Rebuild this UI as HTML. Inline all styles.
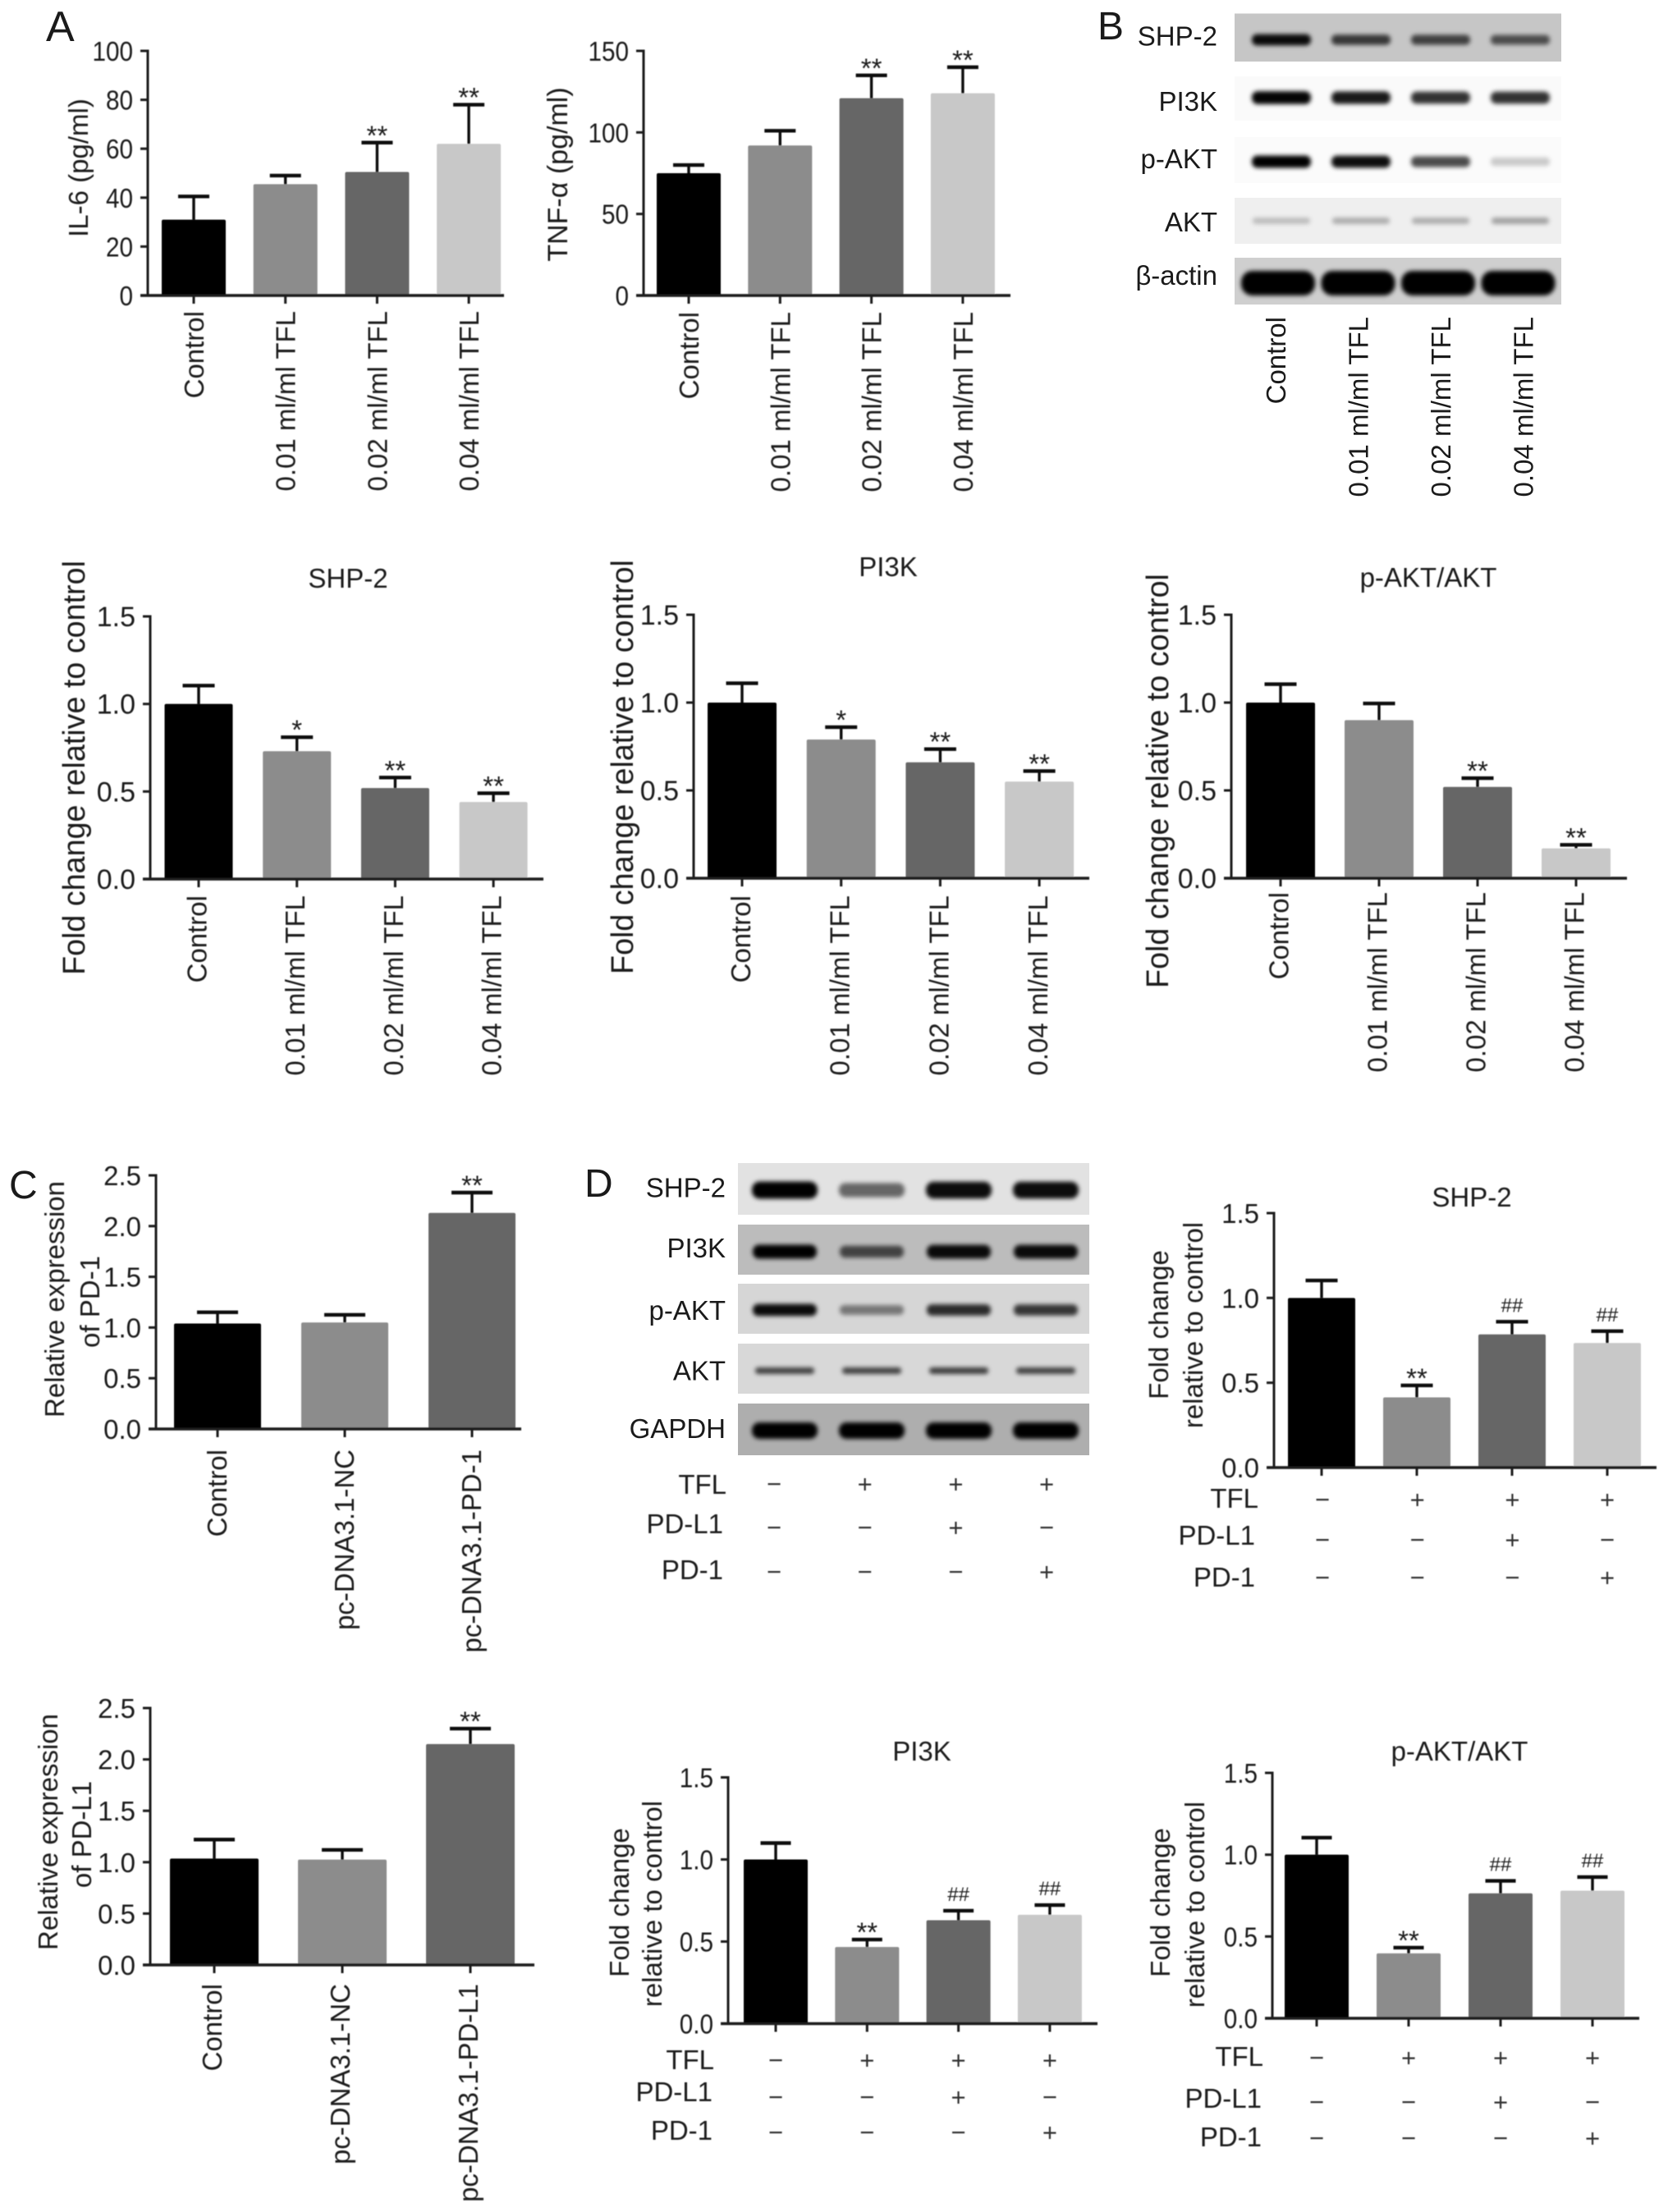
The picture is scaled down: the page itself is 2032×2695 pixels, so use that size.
<!DOCTYPE html>
<html lang="en">
<head>
<meta charset="utf-8">
<title>TFL western blot and bar chart figure</title>
<style>
html,body{margin:0;padding:0;background:#fff;}
svg{display:block;}
text{font-family:"Liberation Sans",Arial,sans-serif;fill:#1a1a1a;}
</style>
</head>
<body>
<svg id="fig" xmlns="http://www.w3.org/2000/svg" width="2032" height="2695" viewBox="0 0 2032 2695">
<defs>
<filter id="band-blur" x="-20%" y="-80%" width="140%" height="260%"><feGaussianBlur stdDeviation="2.6"></feGaussianBlur></filter>
<filter id="soft" x="-2%" y="-2%" width="104%" height="104%"><feGaussianBlur stdDeviation="0.5"></feGaussianBlur></filter>
</defs>
<text x="56" y="50" font-size="52">A</text>
<text x="1337" y="48" font-size="48">B</text>
<text x="11" y="1460" font-size="48">C</text>
<text x="712" y="1458" font-size="48">D</text>
</svg>
<script>
// ---- chart data ----
const doseCategories = ['Control', '0.01 ml/ml TFL', '0.02 ml/ml TFL', '0.04 ml/ml TFL'];
const pd1Categories = ['Control', 'pc-DNA3.1-NC', 'pc-DNA3.1-PD-1'];
const pdl1Categories = ['Control', 'pc-DNA3.1-NC', 'pc-DNA3.1-PD-L1'];

const il6Ticks = [0, 20, 40, 60, 80, 100];
const tnfTicks = [0, 50, 100, 150];
const foldTicks = [0, 0.5, 1, 1.5];
const exprTicks = [0, 0.5, 1, 1.5, 2, 2.5];
const il6TickLabels = ['0', '20', '40', '60', '80', '100'];
const tnfTickLabels = ['0', '50', '100', '150'];
const foldTickLabels = ['0.0', '0.5', '1.0', '1.5'];
const exprTickLabels = ['0.0', '0.5', '1.0', '1.5', '2.0', '2.5'];

const il6Values = [31, 45.5, 50.5, 62];
const il6Errors = [9.5, 3.5, 12, 16];
const il6Marks = ['', '', '**', '**'];
const tnfValues = [75, 92, 121, 124];
const tnfErrors = [5, 9, 14, 16];
const tnfMarks = ['', '', '**', '**'];

const shp2Values = [1, 0.73, 0.52, 0.44];
const shp2Errors = [0.105, 0.08, 0.06, 0.05];
const shp2Marks = ['', '*', '**', '**'];
const pi3kValues = [1, 0.79, 0.66, 0.55];
const pi3kErrors = [0.11, 0.07, 0.075, 0.06];
const pi3kMarks = ['', '*', '**', '**'];
const paktValues = [1, 0.9, 0.52, 0.17];
const paktErrors = [0.105, 0.095, 0.05, 0.02];
const paktMarks = ['', '', '**', '**'];

const pd1Values = [1.04, 1.05, 2.13];
const pd1Errors = [0.11, 0.075, 0.2];
const pd1Marks = ['', '', '**'];
const pdl1Values = [1.035, 1.025, 2.15];
const pdl1Errors = [0.185, 0.095, 0.15];
const pdl1Marks = ['', '', '**'];

const rescueShp2Values = [1, 0.414, 0.785, 0.734];
const rescueShp2Errors = [0.103, 0.07, 0.075, 0.07];
const rescuePi3kValues = [1, 0.467, 0.63, 0.663];
const rescuePi3kErrors = [0.1, 0.045, 0.058, 0.059];
const rescuePaktValues = [1, 0.397, 0.764, 0.78];
const rescuePaktErrors = [0.104, 0.035, 0.076, 0.083];
const rescueMarks = ['', '**', '##', '##'];

const rowTFL = ['\u2212', '+', '+', '+'];
const rowPDL1 = ['\u2212', '\u2212', '+', '\u2212'];
const rowPD1 = ['\u2212', '\u2212', '\u2212', '+'];

const blotBShp2 = [0.95, 0.72, 0.68, 0.62];
const blotBPi3k = [0.98, 0.9, 0.8, 0.8];
const blotBPakt = [1, 0.95, 0.7, 0.2];
const blotBAkt = [0.22, 0.28, 0.28, 0.32];
const blotBActin = [1, 1, 1, 1];
const blotDShp2 = [1, 0.55, 0.95, 0.95];
const blotDPi3k = [1, 0.65, 0.95, 0.95];
const blotDPakt = [0.95, 0.45, 0.8, 0.75];
const blotDAkt = [0.7, 0.7, 0.72, 0.7];
const blotDGapdh = [1, 1, 1, 1];

const barFills = ['#000000', '#8c8c8c', '#666666', '#c8c8c8'];

// ---- drawing helpers ----
const NS = 'http://www.w3.org/2000/svg';
const fig = document.getElementById('fig');
function mk(parent, tag, attrs, txt) {
  const n = document.createElementNS(NS, tag);
  for (const k in attrs) n.setAttribute(k, attrs[k]);
  if (txt !== undefined) n.textContent = txt;
  parent.appendChild(n);
  return n;
}

function drawChart(c) {
  const g = mk(fig, 'g', {filter: 'url(#soft)'});
  
  
  const yScale = v => c.yBase - (v / c.yMax) * (c.yBase - c.yTop);
  const xScale = i => c.cx0 + i * c.step;

  // bars
  c.values.forEach((v, i) => {
    const bar = mk(g, 'rect', {x: xScale(i) - c.barW / 2, y: yScale(v), width: c.barW, height: c.yBase - yScale(v), rx: 2, fill: barFills[i]});
    
    
  });

  // error bars
  c.values.forEach((v, i) => {
    const top = yScale(v + c.errors[i]);
    const stem = mk(g, 'line', {x1: xScale(i), x2: xScale(i), y1: yScale(v), y2: top, stroke: '#0c0c0c', 'stroke-width': 3.4});
    
    
    const cap = mk(g, 'line', {x1: xScale(i) - c.capW / 2, x2: xScale(i) + c.capW / 2, y1: top, y2: top, stroke: '#0c0c0c', 'stroke-width': 4.4});
    
    
    const m = c.marks[i];
    if (m) {
      const isHash = m[0] === '#';
      const sig = mk(g, 'text', {x: xScale(i), y: isHash ? top - 12 : top + 2.5, 'font-size': isHash ? 24 : 33, 'text-anchor': 'middle'}, m);
      
      
    }
  });

  // axes
  const yAxis = mk(g, 'line', {x1: c.axisX, x2: c.axisX, y1: c.yTop - 1.5, y2: c.yBase + 1.5, stroke: '#1a1a1a', 'stroke-width': 3});
  
  
  const xAxis = mk(g, 'line', {x1: c.axisX - 9, x2: c.xRight, y1: c.yBase, y2: c.yBase, stroke: '#1a1a1a', 'stroke-width': 3.4});
  
  

  c.ticks.forEach((t, i) => {
    const tick = mk(g, 'line', {x1: c.axisX - 9, x2: c.axisX, y1: yScale(t), y2: yScale(t), stroke: '#1a1a1a', 'stroke-width': 3});
    
    
    const lx = c.axisX - 18, ly = yScale(t) + 12;
    const lab = mk(g, 'text', {transform: 'translate(' + lx + ' ' + ly + ') scale(' + c.tickScale + ' 1)', 'font-size': c.tickFont, 'text-anchor': 'end'}, c.tickLabels[i]);
    
    
  });

  c.values.forEach((v, i) => {
    const tick = mk(g, 'line', {x1: xScale(i), x2: xScale(i), y1: c.yBase, y2: c.yBase + 10, stroke: '#1a1a1a', 'stroke-width': 3});
    
    
  });

  // rotated category labels
  if (c.categories) {
    c.categories.forEach((cat, i) => {
      const bx = xScale(i) + c.catOffset;
      const lab = mk(g, 'text', {x: bx, y: c.catTop, 'font-size': 33, 'text-anchor': 'end', transform: 'rotate(-90 ' + bx + ' ' + c.catTop + ')'}, cat);
      
      
    });
  }

  // y-axis title lines
  c.yTitle.forEach(line => {
    const yl = mk(g, 'text', {x: line[1], y: line[2], 'font-size': c.yTitleFont, 'text-anchor': 'middle', transform: 'rotate(-90 ' + line[1] + ' ' + line[2] + ')'}, line[0]);
    
    
  });

  if (c.title) {
    const tt = mk(g, 'text', {x: c.title[1], y: c.title[2], 'font-size': 33, 'text-anchor': 'middle'}, c.title[0]);
    
    
  }
}

function drawTreatmentTable(name, rows, x0, step) {
  const g = mk(fig, 'g', {filter: 'url(#soft)'});
  
  
  rows.forEach(r => {
    const lab = mk(g, 'text', {x: r.right, y: r.base, 'font-size': 33, 'text-anchor': 'end'}, r.label);
    
    
    r.signs.forEach((s, i) => {
      const sign = mk(g, 'text', {x: x0 + i * step, y: r.cy + 10.5, 'font-size': 31, 'text-anchor': 'middle', style: 'fill:#333'}, s);
      
      
    });
  });
}

function drawBlotStrip(name, label, labelRight, labelBase, x, w, y, h, bg, intensities, bandY, bandH, laneX0, laneStep, bandW) {
  const g = mk(fig, 'g', {});
  
  
  const strip = mk(g, 'rect', {x: x, y: y, width: w, height: h, fill: bg});
  
  
  intensities.forEach((v, i) => {
    const hh = bandH * (0.6 + 0.4 * v);
    const band = mk(g, 'rect', {x: laneX0 + i * laneStep - bandW / 2, y: bandY - hh / 2, width: bandW, height: hh, rx: hh / 2.2, fill: '#000', 'fill-opacity': v, filter: 'url(#band-blur)'});
    
    
  });
  const lab = mk(g, 'text', {x: labelRight, y: labelBase, 'font-size': 33, 'text-anchor': 'end'}, label);
  
  
}

// ---- Panel A ----
drawChart({name: 'il6-chart', axisX: 180, yTop: 62, yBase: 360, xRight: 614, yMax: 100, cx0: 236, step: 111.7, barW: 78, capW: 38,
  ticks: il6Ticks, tickLabels: il6TickLabels, values: il6Values, errors: il6Errors, marks: il6Marks, tickFont: 33, tickScale: 0.9,
  categories: doseCategories, catOffset: 12, catTop: 379, yTitleFont: 33, yTitle: [['IL-6 (pg/ml)', 107, 204.5]]});
drawChart({name: 'tnf-alpha-chart', axisX: 784, yTop: 62, yBase: 360, xRight: 1231, yMax: 150, cx0: 839, step: 111.3, barW: 78, capW: 38,
  ticks: tnfTicks, tickLabels: tnfTickLabels, values: tnfValues, errors: tnfErrors, marks: tnfMarks, tickFont: 33, tickScale: 0.9,
  categories: doseCategories, catOffset: 12, catTop: 380, yTitleFont: 34, yTitle: [['TNF-\u03B1 (pg/ml)', 691, 212.5]]});

// ---- Panel B blots ----
drawBlotStrip('blot-b-shp2', 'SHP-2', 1483, 55.5, 1504, 398, 16.5, 58.5, '#c6c6c6', blotBShp2, 48.5, 14, 1561, 97, 72);
drawBlotStrip('blot-b-pi3k', 'PI3K', 1483, 135, 1504, 398, 93, 54, '#fafafa', blotBPi3k, 119, 16, 1561, 97, 72);
drawBlotStrip('blot-b-pakt', 'p-AKT', 1483, 205, 1504, 398, 167, 56, '#fbfbfb', blotBPakt, 197, 15, 1561, 97, 72);
drawBlotStrip('blot-b-akt', 'AKT', 1483, 282, 1504, 398, 241, 56, '#efefef', blotBAkt, 269, 11, 1561, 97, 70);
drawBlotStrip('blot-b-actin', '\u03B2-actin', 1483, 347, 1504, 398, 314, 57, '#cfcfcf', blotBActin, 345, 30, 1557, 97.5, 90);

doseCategories.forEach((cat, i) => {
  const bx = 1566 + i * 100.5;
  const by = 386;
  const lab = mk(fig, 'text', {x: bx, y: by, 'font-size': 33, 'text-anchor': 'end', transform: 'rotate(-90 ' + bx + ' ' + by + ')'}, cat);
  
  
});

// ---- Panel B quantification ----
drawChart({name: 'shp2-fold-chart', axisX: 183, yTop: 751, yBase: 1071, xRight: 662, yMax: 1.5, cx0: 242, step: 119.7, barW: 83, capW: 39,
  ticks: foldTicks, tickLabels: foldTickLabels, values: shp2Values, errors: shp2Errors, marks: shp2Marks, tickFont: 34, tickScale: 1,
  categories: doseCategories, catOffset: 9.5, catTop: 1091, yTitleFont: 37.7, yTitle: [['Fold change relative to control', 103, 935.5]], title: ['SHP-2', 424, 716]});
drawChart({name: 'pi3k-fold-chart', axisX: 845, yTop: 749, yBase: 1070, xRight: 1327, yMax: 1.5, cx0: 904, step: 120.7, barW: 84, capW: 39,
  ticks: foldTicks, tickLabels: foldTickLabels, values: pi3kValues, errors: pi3kErrors, marks: pi3kMarks, tickFont: 34, tickScale: 1,
  categories: doseCategories, catOffset: 10, catTop: 1091, yTitleFont: 37.7, yTitle: [['Fold change relative to control', 771, 934.5]], title: ['PI3K', 1082, 702]});
drawChart({name: 'pakt-akt-fold-chart', axisX: 1500, yTop: 749, yBase: 1070, xRight: 1982, yMax: 1.5, cx0: 1560, step: 120, barW: 84, capW: 39,
  ticks: foldTicks, tickLabels: foldTickLabels, values: paktValues, errors: paktErrors, marks: paktMarks, tickFont: 34, tickScale: 1,
  categories: doseCategories, catOffset: 9.5, catTop: 1087, yTitleFont: 37.7, yTitle: [['Fold change relative to control', 1423, 951.5]], title: ['p-AKT/AKT', 1740, 715]});

// ---- Panel C ----
drawChart({name: 'pd1-expression-chart', axisX: 190, yTop: 1432, yBase: 1741, xRight: 635, yMax: 2.5, cx0: 265, step: 155, barW: 106, capW: 50,
  ticks: exprTicks, tickLabels: exprTickLabels, values: pd1Values, errors: pd1Errors, marks: pd1Marks, tickFont: 33, tickScale: 1,
  categories: pd1Categories, catOffset: 11, catTop: 1766, yTitleFont: 33, yTitle: [['Relative expression', 78, 1583], ['of PD-1', 121, 1586]]});
drawChart({name: 'pdl1-expression-chart', axisX: 183, yTop: 2081, yBase: 2394, xRight: 651, yMax: 2.5, cx0: 261, step: 156, barW: 108, capW: 50,
  ticks: exprTicks, tickLabels: exprTickLabels, values: pdl1Values, errors: pdl1Errors, marks: pdl1Marks, tickFont: 33, tickScale: 1,
  categories: pdl1Categories, catOffset: 9, catTop: 2417, yTitleFont: 33, yTitle: [['Relative expression', 70, 2232], ['of PD-L1', 111, 2235]]});

// ---- Panel D blots ----
drawBlotStrip('blot-d-shp2', 'SHP-2', 884, 1458.5, 899, 428, 1417, 63, '#e2e2e2', blotDShp2, 1450, 21, 956, 106, 80);
drawBlotStrip('blot-d-pi3k', 'PI3K', 884, 1532, 899, 428, 1492, 61, '#bcbcbc', blotDPi3k, 1525, 17, 956, 106, 78);
drawBlotStrip('blot-d-pakt', 'p-AKT', 884, 1608, 899, 428, 1564, 61, '#d6d6d6', blotDPakt, 1596, 15, 956, 106, 78);
drawBlotStrip('blot-d-akt', 'AKT', 884, 1681.5, 899, 428, 1637, 61, '#d8d8d8', blotDAkt, 1670, 9, 956, 106, 72);
drawBlotStrip('blot-d-gapdh', 'GAPDH', 884, 1752, 899, 428, 1710, 63, '#aeaeae', blotDGapdh, 1743, 20, 956, 106, 80);

drawTreatmentTable('blot-d-treatment-table', [
  {label: 'TFL', right: 885, base: 1820, cy: 1808, signs: rowTFL},
  {label: 'PD-L1', right: 881, base: 1868, cy: 1861, signs: rowPDL1},
  {label: 'PD-1', right: 881, base: 1924, cy: 1915, signs: rowPD1}
], 943, 110.7);

// ---- Panel D quantification ----
drawChart({name: 'rescue-shp2-chart', axisX: 1552, yTop: 1478, yBase: 1788, xRight: 2018, yMax: 1.5, cx0: 1610, step: 116, barW: 82, capW: 39,
  ticks: foldTicks, tickLabels: foldTickLabels, values: rescueShp2Values, errors: rescueShp2Errors, marks: rescueMarks, tickFont: 33, tickScale: 1,
  yTitleFont: 33, yTitle: [['Fold change', 1423, 1614], ['relative to control', 1465, 1614.5]], title: ['SHP-2', 1793, 1470]});
drawTreatmentTable('rescue-shp2-treatment-table', [
  {label: 'TFL', right: 1533, base: 1837, cy: 1827, signs: rowTFL},
  {label: 'PD-L1', right: 1529, base: 1882, cy: 1876, signs: rowPDL1},
  {label: 'PD-1', right: 1529, base: 1933, cy: 1922, signs: rowPD1}
], 1611, 115.7);

drawChart({name: 'rescue-pi3k-chart', axisX: 887, yTop: 2165.5, yBase: 2465.5, xRight: 1337, yMax: 1.5, cx0: 945, step: 111.3, barW: 78, capW: 37,
  ticks: foldTicks, tickLabels: foldTickLabels, values: rescuePi3kValues, errors: rescuePi3kErrors, marks: rescueMarks, tickFont: 33, tickScale: 0.9,
  yTitleFont: 33, yTitle: [['Fold change', 766, 2318], ['relative to control', 806, 2319.5]], title: ['PI3K', 1123, 2145]});
drawTreatmentTable('rescue-pi3k-treatment-table', [
  {label: 'TFL', right: 870, base: 2521, cy: 2510, signs: rowTFL},
  {label: 'PD-L1', right: 868, base: 2560, cy: 2555, signs: rowPDL1},
  {label: 'PD-1', right: 868, base: 2607, cy: 2598, signs: rowPD1}
], 945, 111.3);

drawChart({name: 'rescue-pakt-akt-chart', axisX: 1550, yTop: 2160, yBase: 2459, xRight: 1997, yMax: 1.5, cx0: 1604, step: 112, barW: 78, capW: 37,
  ticks: foldTicks, tickLabels: foldTickLabels, values: rescuePaktValues, errors: rescuePaktErrors, marks: rescueMarks, tickFont: 33, tickScale: 0.9,
  yTitleFont: 33, yTitle: [['Fold change', 1425, 2318], ['relative to control', 1467, 2320.5]], title: ['p-AKT/AKT', 1778, 2145]});
drawTreatmentTable('rescue-pakt-akt-treatment-table', [
  {label: 'TFL', right: 1539, base: 2517, cy: 2507, signs: rowTFL},
  {label: 'PD-L1', right: 1537, base: 2568, cy: 2561, signs: rowPDL1},
  {label: 'PD-1', right: 1537, base: 2615, cy: 2605, signs: rowPD1}
], 1604, 112);
</script>
</body>
</html>
